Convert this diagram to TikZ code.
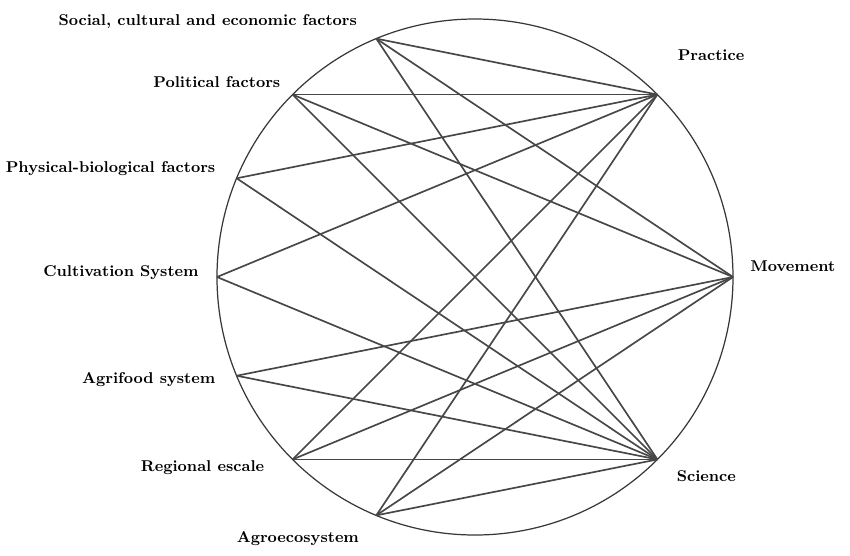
\documentclass[tikz,border=0pt]{standalone}
\usepackage{tikz}

\tikzset{
  lbl/.style={font=\bfseries\fontsize{8.9}{11}\selectfont, inner sep=0pt},
  link/.style={draw=black!72, line width=0.95pt},
  rim/.style={draw=black!78, line width=0.7pt}
}

\begin{document}
\begin{tikzpicture}
  \useasboundingbox (-9.5,-5.56) rectangle (7.5,5.54);
  \draw[rim] (0,0) circle (5.16);
  \foreach \a/\n in {112.5/soc,135/pol,157.5/phy,180/cul,202.5/agr,225/reg,247.5/eco,45/pra,0/mov,-45/sci}
    \coordinate (\n) at (\a:5.16);
  \foreach \s/\t in {soc/pra,soc/mov,soc/sci,pol/pra,pol/mov,pol/sci,phy/pra,phy/sci,cul/pra,cul/sci,
                     agr/mov,agr/sci,reg/pra,reg/mov,reg/sci,eco/pra,eco/mov,eco/sci}
    \draw[link] (\s) -- (\t);

  \node[lbl, anchor=east] (soclbl) at ([shift={(-0.38,0.34)}]soc) {Social, cultural and economic factors};
  \node[lbl, anchor=east] (pollbl) at ([shift={(-0.24,0.26)}]pol) {Political factors};
  \node[lbl, anchor=east] (phylbl) at ([shift={(-0.42,0.2)}]phy) {Physical-biological factors};
  \node[lbl, anchor=east] (cullbl) at ([shift={(-0.36,0.08)}]cul) {Cultivation System};
  \node[lbl, anchor=east] (agrlbl) at ([shift={(-0.42,-0.08)}]agr) {Agrifood system};
  \node[lbl, anchor=east] (reglbl) at ([shift={(-0.56,-0.16)}]reg) {Regional escale};
  \node[lbl, anchor=east] (ecolbl) at ([shift={(-0.34,-0.46)}]eco) {Agroecosystem};
  \node[lbl, anchor=west] (pralbl) at ([shift={(0.4,0.78)}]pra) {Practice};
  \node[lbl, anchor=west] (movlbl) at ([shift={(0.34,0.22)}]mov) {Movement};
  \node[lbl, anchor=west] (scilbl) at ([shift={(0.38,-0.34)}]sci) {Science};
\end{tikzpicture}
\end{document}
